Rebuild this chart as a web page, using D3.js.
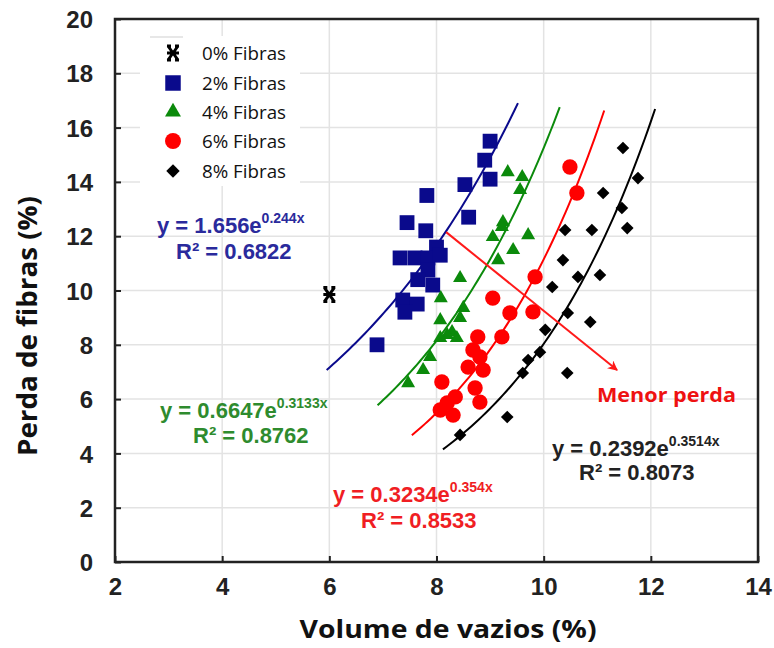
<!DOCTYPE html>
<html><head><meta charset="utf-8">
<script src="https://cdn.jsdelivr.net/npm/d3@7"></script>
<style>body{margin:0;background:#fff} svg{display:block}</style>
</head><body><svg id="c" width="774" height="648"></svg>
<script>
// ---------- data ----------
const xTicks = [2, 4, 6, 8, 10, 12, 14];
const yTicks = [0, 2, 4, 6, 8, 10, 12, 14, 16, 18, 20];
const seriesNames = ["0% Fibras", "2% Fibras", "4% Fibras", "6% Fibras", "8% Fibras"];

const x0 = [6.0];
const y0 = [9.85];

const x2 = [9.0, 8.9, 9.0, 8.53, 7.82, 8.6, 7.45, 7.8, 8.0, 7.32, 7.6, 7.84, 8.07, 7.84, 7.65, 7.93, 7.37, 7.64, 7.41, 6.89];
const y2 = [15.5, 14.8, 14.1, 13.9, 13.5, 12.7, 12.5, 12.2, 11.6, 11.2, 11.2, 11.2, 11.3, 10.75, 10.4, 10.2, 9.65, 9.5, 9.2, 8.0];

const x4 = [9.33, 9.6, 9.56, 9.71, 9.24, 9.22, 9.05, 9.43, 9.15, 8.44, 8.08, 8.5, 8.44, 8.07, 8.29, 8.2, 8.07, 8.38, 7.88, 7.75, 7.47];
const y4 = [14.36, 14.18, 13.7, 12.04, 12.52, 12.34, 11.97, 11.49, 11.12, 10.46, 9.72, 9.36, 8.99, 8.91, 8.47, 8.36, 8.25, 8.25, 7.55, 7.07, 6.59];

const x6 = [10.49, 10.62, 9.84, 9.05, 9.8, 9.37, 9.22, 8.77, 8.68, 8.81, 8.59, 8.87, 8.1, 8.72, 8.35, 8.2, 8.81, 8.07, 8.31];
const y6 = [14.55, 13.59, 10.5, 9.72, 9.21, 9.17, 8.29, 8.29, 7.81, 7.55, 7.18, 7.07, 6.63, 6.41, 6.08, 5.86, 5.89, 5.6, 5.41];

const x8 = [11.48, 11.76, 11.11, 11.46, 11.56, 10.4, 10.9, 10.36, 11.05, 10.64, 10.16, 10.45, 10.87, 10.03, 9.93, 9.71, 9.61, 10.44, 9.32, 8.44];
const y8 = [15.25, 14.14, 13.59, 13.04, 12.3, 12.23, 12.23, 11.12, 10.57, 10.5, 10.13, 9.17, 8.84, 8.55, 7.73, 7.44, 6.96, 6.96, 5.34, 4.68];

// exponential trend lines y = a*e^(b*x), drawn over [xmin, xmax]
const fitA = [1.656, 0.6647, 0.3234, 0.2392];
const fitB = [0.244, 0.3133, 0.354, 0.3514];
const fitXmin = [5.95, 6.9, 7.54, 8.12];
const fitXmax = [9.52, 10.3, 11.13, 12.08];
const fitCoef = ["1.656", "0.6647", "0.3234", "0.2392"];
const fitExp = ["0.244x", "0.3133x", "0.354x", "0.3514x"];
const fitR2 = ["0.6822", "0.8762", "0.8533", "0.8073"];

const arrowX = [8.18, 11.37];
const arrowY = [12.15, 7.07];
const arrowLabel = "Menor perda";

// ---------- drawing ----------
const svg = d3.select("#c");
const L = 115, R = 758, T = 19, B = 562;
const x = d3.scaleLinear().domain([2, 14]).range([L, R]);
const y = d3.scaleLinear().domain([0, 20]).range([B, T]);

const colors = ["#000000", "#0a0a8c", "#0b8a0b", "#ff0000", "#000000"];
const textColors = ["#2a2a9c", "#2e8b2e", "#f01e23", "#222222"];

// gridlines
svg.append("g").selectAll("line").data(xTicks.slice(1, -1)).join("line")
  .attr("x1", d => x(d)).attr("x2", d => x(d)).attr("y1", T).attr("y2", B)
  .attr("stroke", "#e3e3e3").attr("stroke-width", 1.5);
svg.append("g").selectAll("line").data(yTicks.slice(1, -1)).join("line")
  .attr("y1", d => y(d)).attr("y2", d => y(d)).attr("x1", L).attr("x2", R)
  .attr("stroke", "#e3e3e3").attr("stroke-width", 1.5);

// axes
const xAxis = svg.append("g").attr("transform", `translate(0,${B})`)
  .call(d3.axisBottom(x).tickValues(xTicks).tickSize(-6).tickPadding(16).tickFormat(d3.format("d")));
const yAxis = svg.append("g").attr("transform", `translate(${L},0)`)
  .call(d3.axisLeft(y).tickValues(yTicks).tickSize(-6).tickPadding(22).tickFormat(d3.format("d")));
[xAxis, yAxis].forEach(g => {
  g.select(".domain").remove();
  g.selectAll(".tick line").attr("stroke", "#222").attr("stroke-width", 2);
  g.selectAll(".tick text").attr("font-family", "Liberation Sans, Arial, sans-serif")
    .attr("font-weight", "bold").attr("font-size", 24).attr("fill", "#222");
});
xAxis.selectAll(".tick text").attr("dy", "0.71em");
yAxis.selectAll(".tick text").attr("dy", "0.36em");

// frame
svg.append("rect").attr("x", L).attr("y", T).attr("width", R - L).attr("height", B - T)
  .attr("fill", "none").attr("stroke", "#222").attr("stroke-width", 2.5);

// axis titles
svg.append("text").attr("x", 448).attr("y", 638).attr("text-anchor", "middle")
  .attr("font-family", "Open Sans, sans-serif").attr("font-weight", "bold").attr("font-size", 25)
  .attr("textLength", 297).attr("lengthAdjust", "spacingAndGlyphs")
  .attr("fill", "#111").text("Volume de vazios (%)");
svg.append("text").attr("transform", "translate(37,326) rotate(-90)").attr("text-anchor", "middle")
  .attr("font-family", "Open Sans, sans-serif").attr("font-weight", "bold").attr("font-size", 26)
  .attr("textLength", 260).attr("lengthAdjust", "spacingAndGlyphs")
  .attr("fill", "#111").text("Perda de fibras (%)");

// trend lines
const fits = fitA.map((a, i) => d3.range(0, 61).map(k => {
  const xv = fitXmin[i] + (fitXmax[i] - fitXmin[i]) * k / 60;
  return [xv, a * Math.exp(fitB[i] * xv)];
}));
const line = d3.line().x(d => x(d[0])).y(d => y(d[1]));
svg.append("g").selectAll("path").data(fits).join("path")
  .attr("d", line).attr("fill", "none")
  .attr("stroke", (d, i) => colors[i + 1]).attr("stroke-width", 2);

// arrow
svg.append("defs").append("marker").attr("id", "ah").attr("viewBox", "0 0 10 10")
  .attr("refX", 9).attr("refY", 5).attr("markerWidth", 5).attr("markerHeight", 5)
  .attr("orient", "auto").append("path").attr("d", "M0,0 L10,5 L0,10 L3,5 Z").attr("fill", "#ff1a1a");
svg.append("line").attr("x1", x(arrowX[0])).attr("y1", y(arrowY[0]))
  .attr("x2", x(arrowX[1])).attr("y2", y(arrowY[1]))
  .attr("stroke", "#ff1a1a").attr("stroke-width", 2).attr("marker-end", "url(#ah)");
svg.append("text").attr("x", 597).attr("y", 402)
  .attr("font-family", "Open Sans, sans-serif").attr("font-weight", "bold").attr("font-size", 20)
  .attr("textLength", 139).attr("lengthAdjust", "spacingAndGlyphs")
  .attr("fill", "#ee1111").text(arrowLabel);

// markers
const sym = {
  square: d3.symbol().type(d3.symbolSquare).size(220)(),
  triangle: d3.symbol().type(d3.symbolTriangle).size(85)(),
  circle: d3.symbol().type(d3.symbolCircle).size(185)(),
  diamond: d3.symbol().type(d3.symbolSquare).size(80)()
};
const star = "M-5,-7 L5,7 M5,-7 L-5,7 M-6,-7 L-2,-7 M2,-7 L6,-7 M-6,7 L-2,7 M2,7 L6,7 M-6,0 L6,0";
function plotSeries(xs, ys, kind, color) {
  const g = svg.append("g");
  const pts = xs.map((v, i) => [v, ys[i]]);
  const sel = g.selectAll("path").data(pts).join("path")
    .attr("transform", d => `translate(${x(d[0])},${y(d[1])})` + (kind === "diamond" ? " rotate(45)" : ""));
  if (kind === "star") {
    sel.attr("d", star).attr("stroke", color).attr("stroke-width", 3).attr("fill", "none");
  } else {
    sel.attr("d", sym[kind]).attr("fill", color);
  }
}
plotSeries(x0, y0, "star", colors[0]);
plotSeries(x2, y2, "square", colors[1]);
plotSeries(x4, y4, "triangle", colors[2]);
plotSeries(x6, y6, "circle", colors[3]);
plotSeries(x8, y8, "diamond", colors[4]);

// equation labels: [x line1, baseline1, x line2, baseline2]
const eqPos = [[157, 233, 176, 259], [160, 418, 193, 443], [333, 502, 361, 528], [552, 456, 579, 480]];
eqPos.forEach((p, i) => {
  const t1 = svg.append("text").attr("x", p[0]).attr("y", p[1])
    .attr("font-family", "Liberation Sans, Arial, sans-serif").attr("font-weight", "bold")
    .attr("font-size", 22).attr("fill", textColors[i]);
  t1.append("tspan").text(`y = ${fitCoef[i]}e`);
  t1.append("tspan").attr("font-size", 14).attr("dy", -10).text(fitExp[i]);
  svg.append("text").attr("x", p[2]).attr("y", p[3])
    .attr("font-family", "Liberation Sans, Arial, sans-serif").attr("font-weight", "bold")
    .attr("font-size", 22).attr("fill", textColors[i]).text(`R² = ${fitR2[i]}`);
});

// legend
const legY = [53, 83, 112, 141, 171];
const kinds = ["star", "square", "triangle", "circle", "diamond"];
const legSym = {
  square: d3.symbol().type(d3.symbolSquare).size(240)(),
  triangle: d3.symbol().type(d3.symbolTriangle).size(110)(),
  circle: d3.symbol().type(d3.symbolCircle).size(200)(),
  diamond: d3.symbol().type(d3.symbolSquare).size(90)()
};
const lg = svg.append("g");
lg.append("rect").attr("x", 140).attr("y", 36).attr("width", 160).attr("height", 150).attr("fill", "#fff");
lg.append("line").attr("x1", 150).attr("x2", 183).attr("y1", 37).attr("y2", 37)
  .attr("stroke", "#cfcfcf").attr("stroke-width", 1);
seriesNames.forEach((name, i) => {
  const g = lg.append("g").attr("transform", `translate(173,${legY[i]})`);
  if (kinds[i] === "star") {
    g.append("path").attr("d", star).attr("stroke", colors[i]).attr("stroke-width", 3).attr("fill", "none");
  } else {
    g.append("path").attr("d", legSym[kinds[i]]).attr("fill", colors[i])
      .attr("transform", kinds[i] === "diamond" ? "rotate(45)" : null);
  }
  lg.append("text").attr("x", 202).attr("y", legY[i]).attr("dy", "0.36em")
    .attr("font-family", "Open Sans, sans-serif").attr("font-size", 18.5)
    .attr("textLength", 84).attr("lengthAdjust", "spacingAndGlyphs")
    .attr("fill", "#111").text(name);
});
</script></body></html>
